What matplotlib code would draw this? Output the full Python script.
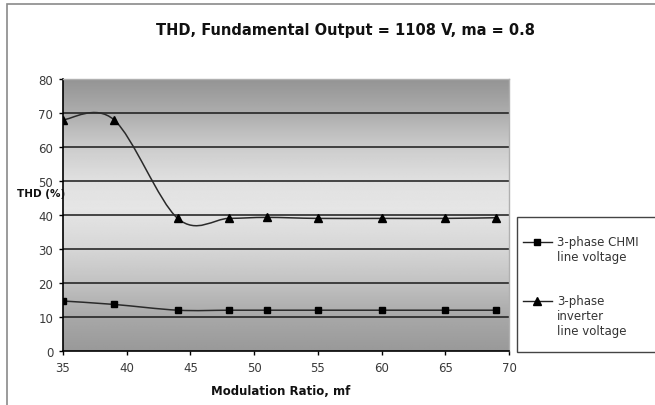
import numpy as np
import matplotlib
matplotlib.use("Agg")
import matplotlib.pyplot as plt
from matplotlib.path import Path
from matplotlib.patches import PathPatch, Rectangle
from matplotlib.lines import Line2D

plt.rcParams['font.family'] = ['DejaVu Sans']

# ---- data ----
mf = [35, 39, 44, 48, 51, 55, 60, 65, 69]
chmi_thd = [14.7, 13.7, 12.0, 12.0, 12.0, 12.0, 12.0, 12.0, 12.0]
inverter_thd = [68.0, 68.0, 39.0, 39.0, 39.3, 39.0, 39.0, 39.0, 39.2]
x_ticks = [35, 40, 45, 50, 55, 60, 65, 70]
y_ticks = [0, 10, 20, 30, 40, 50, 60, 70, 80]
title = "THD, Fundamental Output = 1108 V, ma = 0.8"
x_label = "Modulation Ratio, mf"
y_label = "THD (%)"
series_labels = ["3-phase CHMI\nline voltage", "3-phase\ninverter\nline voltage"]


def smooth_path(xs, ys):
    """Excel-style smoothed line as cubic Bezier segments through the points."""
    p = np.column_stack([xs, ys]).astype(float)
    n = len(p)
    verts = [tuple(p[0])]
    codes = [Path.MOVETO]
    for i in range(n - 1):
        p0 = p[i - 1] if i > 0 else p[i]
        p1 = p[i]
        p2 = p[i + 1]
        p3 = p[i + 2] if i + 2 < n else p[i + 1]
        c1 = p1 + (p2 - p0) / 6.0
        c2 = p2 - (p3 - p1) / 6.0
        verts += [tuple(c1), tuple(c2), tuple(p2)]
        codes += [Path.CURVE4] * 3
    return Path(verts, codes)


W, H = 655, 406
fig = plt.figure(figsize=(W / 100, H / 100), dpi=100)
fig.patch.set_facecolor('white')

# outer chart border
fig.patches.append(Rectangle((7 / W, -0.1), 1.2, 1 - 5 / H + 0.1,
                             transform=fig.transFigure, fill=False,
                             edgecolor='#8a8a8a', linewidth=1.2))

ax = fig.add_axes([63 / W, 1 - 352 / H, (509 - 63) / W, (352 - 80) / H])
ax.set_xlim(35, 70)
ax.set_ylim(0, 80)

# background gradient (dark top and bottom, light in middle)
yy = np.linspace(0, 80, 400)
lum = np.interp(yy, [0, 10, 20, 30, 42, 50, 60, 70, 80],
                [0.60, 0.66, 0.76, 0.84, 0.90, 0.88, 0.80, 0.68, 0.58])
img = np.repeat(lum[:, None], 2, axis=1)
ax.imshow(img, cmap='gray', vmin=0, vmax=1, origin='lower',
          extent=[35, 70, 0, 80], aspect='auto', zorder=0, interpolation='bilinear')

for yv in y_ticks[1:]:
    ax.axhline(yv, color='#1a1a1a', linewidth=1.1, zorder=1)

ax.add_patch(PathPatch(smooth_path(mf, chmi_thd), fill=False,
                       edgecolor='#2a2a2a', linewidth=1.1, zorder=3))
ax.add_patch(PathPatch(smooth_path(mf, inverter_thd), fill=False,
                       edgecolor='#2a2a2a', linewidth=1.1, zorder=3))
ax.plot(mf, chmi_thd, linestyle='none', marker='s', markersize=4.8,
        color='black', zorder=4)
ax.plot(mf, inverter_thd, linestyle='none', marker='^', markersize=5.5,
        color='black', zorder=4)

ax.set_xticks(x_ticks)
ax.set_yticks(y_ticks)
ax.tick_params(axis='both', direction='out', length=3, width=1,
               labelsize=8.5, colors='black', labelcolor='#3a3a3a', pad=4)
for s in ['left', 'bottom']:
    ax.spines[s].set_color('black')
    ax.spines[s].set_linewidth(1.2)
for s in ['top', 'right']:
    ax.spines[s].set_color('#b0b0b0')
    ax.spines[s].set_linewidth(1.0)

fig.text(346 / W, 1 - 31 / H, title, ha='center', va='center',
         fontsize=10.5, fontweight='bold', color='#111111')
fig.text(281 / W, 1 - 392 / H, x_label, ha='center', va='center',
         fontsize=8.5, fontweight='bold', color='#111111')
fig.text(41 / W, 1 - 194 / H, y_label, ha='center', va='center',
         fontsize=7.5, fontweight='bold', color='#111111')

# legend box (runs off the right edge as in the reference)
fig.patches.append(Rectangle((517 / W, 1 - 353 / H), 0.3, (353 - 218) / H,
                             transform=fig.transFigure, facecolor='white',
                             edgecolor='#444444', linewidth=1.0))
leg_y = [243, 302]
markers = ['s', '^']
msizes = [4.8, 5.5]
for yl, m, ms, lab in zip(leg_y, markers, msizes, series_labels):
    fig.add_artist(Line2D([523 / W, 552 / W], [1 - yl / H, 1 - yl / H],
                          transform=fig.transFigure, color='#222222',
                          linewidth=1.0))
    fig.add_artist(Line2D([537 / W], [1 - yl / H], transform=fig.transFigure,
                          marker=m, markersize=ms, color='black',
                          linestyle='none'))
    fig.text(557 / W, 1 - (yl - 7) / H, lab, ha='left', va='top',
             fontsize=8.5, color='#333333', linespacing=1.2)

fig.savefig('out.png', dpi=100)
